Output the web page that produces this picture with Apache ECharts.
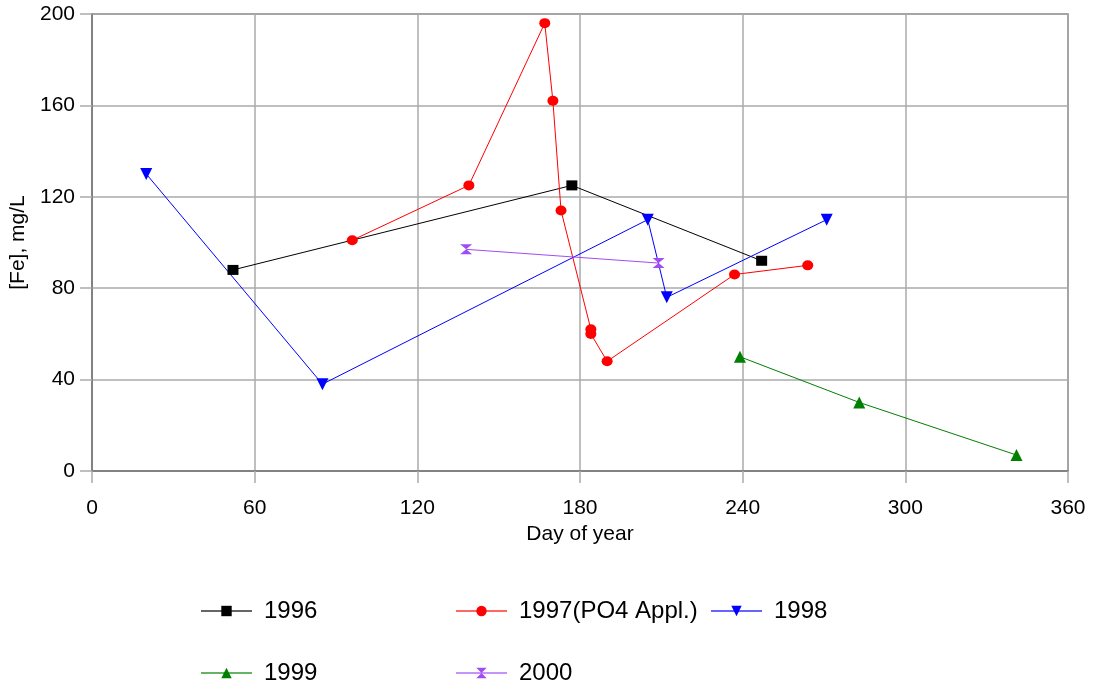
<!DOCTYPE html>
<html>
<head>
<meta charset="utf-8">
<script src="https://cdn.jsdelivr.net/npm/echarts@6/dist/echarts.min.js"></script>
<style>
html,body{margin:0;padding:0;background:#fff;}
#chart{width:1094px;height:689px;}
</style>
</head>
<body>
<div id="chart"></div>
<script>
// Data
var seriesNames = ['1996', '1997(PO4 Appl.)', '1998', '1999', '2000'];
var days1996 = [52, 177, 247];
var fe1996   = [88, 125, 92];
var days1997 = [96, 139, 167, 170, 173, 184, 184, 190, 237, 264];
var fe1997   = [101, 125, 196, 162, 114, 62, 60, 48, 86, 90];
var days1998 = [20, 85, 205, 212, 271];
var fe1998   = [130, 38, 110, 76, 110];
var days1999 = [239, 283, 341];
var fe1999   = [50, 30, 7];
var days2000 = [138, 209];
var fe2000   = [97, 91];
var xTicks = [0, 60, 120, 180, 240, 300, 360];
var yTicks = [0, 40, 80, 120, 160, 200];

function pairs(xs, ys) { return xs.map(function (x, i) { return [x, ys[i]]; }); }

var hourglass = 'path://M0,0 L10,0 L5,5 L10,10 L0,10 L5,5 Z';
var colors = ['#000000', '#ff0000', '#0000ff', '#008000', '#a04cf5'];
var symbols = ['rect', 'circle', 'triangle', 'triangle', hourglass];
var symbolSizes = [[11, 10], [11, 10], 12, 12, [12, 10]];
var symbolRotate = [0, 0, 180, 0, 0];
var dataSets = [
  pairs(days1996, fe1996), pairs(days1997, fe1997), pairs(days1998, fe1998),
  pairs(days1999, fe1999), pairs(days2000, fe2000)
];

var font = 'Liberation Sans, Arial, sans-serif';
var series = seriesNames.map(function (n, i) {
  return {
    name: n, type: 'line', data: dataSets[i],
    symbol: symbols[i], symbolSize: symbolSizes[i], symbolRotate: symbolRotate[i],
    showAllSymbol: true,
    lineStyle: { color: colors[i], width: 1 },
    itemStyle: { color: colors[i] },
    emphasis: { disabled: true },
    animation: false
  };
});

var legendPos = [[195, 594], [450, 594], [705, 594], [195, 656], [450, 656]];
var legends = seriesNames.map(function (n, i) {
  return {
    data: [n], left: legendPos[i][0], top: legendPos[i][1],
    itemWidth: 51, itemHeight: 13, itemGap: 0,
    lineStyle: { opacity: 0.6, width: 2 },
    textStyle: { fontSize: 24, color: '#000', fontFamily: font, padding: [0, 0, 0, 7] },
    selectedMode: false
  };
});

var chart = echarts.init(document.getElementById('chart'), null, { renderer: 'canvas' });
chart.setOption({
  backgroundColor: '#fff',
  animation: false,
  grid: { left: 92, top: 14, right: 26, bottom: 218, show: true, borderColor: '#777', borderWidth: 1.5 },
  xAxis: {
    type: 'value', min: xTicks[0], max: xTicks[xTicks.length - 1], interval: 60,
    name: 'Day of year', nameLocation: 'middle', nameGap: 52,
    nameTextStyle: { fontSize: 21, color: '#000', fontFamily: font },
    axisLine: { show: true, lineStyle: { color: '#777', width: 1.5 } },
    axisTick: { show: true, length: 12, lineStyle: { color: '#aaa', width: 1.5 } },
    axisLabel: { fontSize: 21, color: '#000', fontFamily: font, margin: 27 },
    splitLine: { show: true, lineStyle: { color: '#aaa', width: 1.5 } }
  },
  yAxis: {
    type: 'value', min: yTicks[0], max: yTicks[yTicks.length - 1], interval: 40,
    name: '[Fe], mg/L', nameLocation: 'middle', nameGap: 62,
    nameTextStyle: { fontSize: 21, color: '#000', fontFamily: font },
    axisLine: { show: true, lineStyle: { color: '#777', width: 1.5 } },
    axisTick: { show: true, length: 12, lineStyle: { color: '#aaa', width: 1.5 } },
    axisLabel: { fontSize: 21, color: '#000', fontFamily: font, margin: 17 },
    splitLine: { show: true, lineStyle: { color: '#aaa', width: 1.5 } }
  },
  legend: legends,
  series: series
});
</script>
</body>
</html>
